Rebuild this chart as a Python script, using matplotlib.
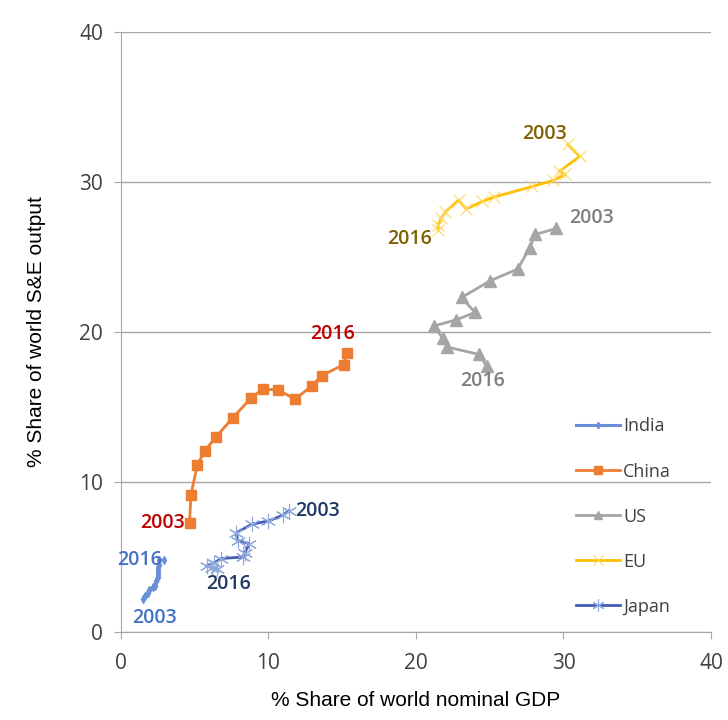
import matplotlib.pyplot as plt

# % share of world nominal GDP (x) and S&E output (y), 2003 -> 2016
india_x = [1.5, 1.6, 1.8, 1.9, 2.2, 2.3, 2.4, 2.5, 2.5, 2.5, 2.5, 2.6, 2.6, 2.9]
india_y = [2.2, 2.4, 2.6, 2.8, 3.0, 3.1, 3.4, 3.7, 3.9, 4.1, 4.3, 4.5, 4.8, 4.8]

china_x = [4.65, 4.74, 5.17, 5.69, 6.42, 7.57, 8.82, 9.61, 10.63, 11.81, 12.93, 13.6, 15.1, 15.31]
china_y = [7.29, 9.13, 11.13, 12.09, 12.98, 14.27, 15.6, 16.2, 16.13, 15.53, 16.4, 17.09, 17.82, 18.6]

us_x = [29.5, 28.1, 27.7, 26.9, 25.0, 23.1, 24.0, 22.7, 21.2, 21.8, 22.1, 24.3, 24.8]
us_y = [26.9, 26.5, 25.6, 24.2, 23.4, 22.3, 21.3, 20.8, 20.4, 19.6, 19.0, 18.5, 17.7]

eu_x = [30.3, 31.1, 29.7, 30.1, 29.3, 27.9, 25.3, 24.5, 23.4, 22.9, 22.0, 21.7, 21.5, 21.5]
eu_y = [32.5, 31.7, 30.7, 30.5, 30.1, 29.7, 29.0, 28.7, 28.2, 28.8, 28.0, 27.6, 27.1, 26.8]

japan_x = [11.4, 11.0, 10.0, 8.9, 7.8, 7.9, 8.7, 8.4, 8.3, 6.8, 6.3, 5.8, 6.2, 6.5]
japan_y = [8.1, 7.8, 7.4, 7.2, 6.6, 6.1, 5.9, 5.3, 5.0, 4.9, 4.6, 4.4, 4.3, 4.2]

fig = plt.figure(figsize=(7.28, 7.2), dpi=100)
ax = fig.add_axes([0.1662, 0.1222, 0.8104, 0.8334])

ax.plot(india_x, india_y, color='#6A8FD8', lw=2.2, marker='d', ms=4, label='India')
ax.plot(china_x, china_y, color='#ED7D31', lw=2, marker='s', ms=7, label='China')
ax.plot(us_x, us_y, color='#A5A5A5', lw=2, marker='^', ms=8, label='US')
ax.plot(eu_x, eu_y, color='#FFC000', lw=2, marker='x', ms=9, mew=0.8,
        mec='#FFD966', label='EU')
ax.plot(japan_x, japan_y, color='#4459B8', lw=2, marker=(6, 2, 0), ms=11, mew=0.8,
        mec='#8EA9DB', label='Japan')

# year annotations at the start / end of each path
lab = dict(fontsize=14, fontweight='semibold', family='Open Sans')
ax.text(china_x[0] - 0.3, china_y[0], '2003', color='#C00000', ha='right', va='center', **lab)
ax.text(china_x[-1] - 1.0, china_y[-1] + 0.6, '2016', color='#C00000', ha='center', va='bottom', **lab)
ax.text(india_x[0] + 0.8, india_y[0] - 0.6, '2003', color='#4472C4', ha='center', va='top', **lab)
ax.text(india_x[-1] - 0.1, india_y[-1], '2016', color='#4472C4', ha='right', va='center', **lab)
ax.text(japan_x[0] + 0.4, japan_y[0], '2003', color='#203864', ha='left', va='center', **lab)
ax.text(japan_x[-1] + 0.8, japan_y[-1] - 0.3, '2016', color='#203864', ha='center', va='top', **lab)
ax.text(eu_x[0] - 0.1, eu_y[0] + 0.0, '2003', color='#7F6000', ha='right', va='bottom', **lab)
ax.text(eu_x[-1] - 0.4, eu_y[-1] - 0.6, '2016', color='#7F6000', ha='right', va='center', **lab)
ax.text(us_x[0] + 0.9, us_y[0] + 0.7, '2003', color='#7F7F7F', ha='left', va='center', **lab)
ax.text(us_x[-1] - 0.3, us_y[-1] - 0.3, '2016', color='#7F7F7F', ha='center', va='top', **lab)

ax.set_xlim(0, 40)
ax.set_ylim(0, 40)
ax.set_xticks([0, 10, 20, 30, 40])
ax.set_yticks([0, 10, 20, 30, 40])
ax.yaxis.grid(True, color='#A6A6A6', lw=1)
ax.set_axisbelow(True)
for s in ['top', 'right']:
    ax.spines[s].set_visible(False)
for s in ['left', 'bottom']:
    ax.spines[s].set_color('#A6A6A6')
ax.tick_params(colors='#A6A6A6', labelcolor='#404040', labelsize=15, length=5, pad=8)
ax.tick_params(axis='x', pad=10)
for t in ax.get_xticklabels() + ax.get_yticklabels():
    t.set_family('Open Sans')

ax.set_xlabel('% Share of world nominal GDP', fontsize=15, family='Liberation Sans', labelpad=12)
ax.set_ylabel('% Share of world S&E output', fontsize=15, family='Liberation Sans', labelpad=24)

leg = ax.legend(loc='lower right', bbox_to_anchor=(0.96, 0.0), frameon=False,
                prop={'family': 'Open Sans', 'size': 13}, labelspacing=1.5,
                handlelength=2.4, handletextpad=0.2, markerscale=0.8)
for t in leg.get_texts():
    t.set_color('#404040')

fig.savefig('out.png', dpi=100)
